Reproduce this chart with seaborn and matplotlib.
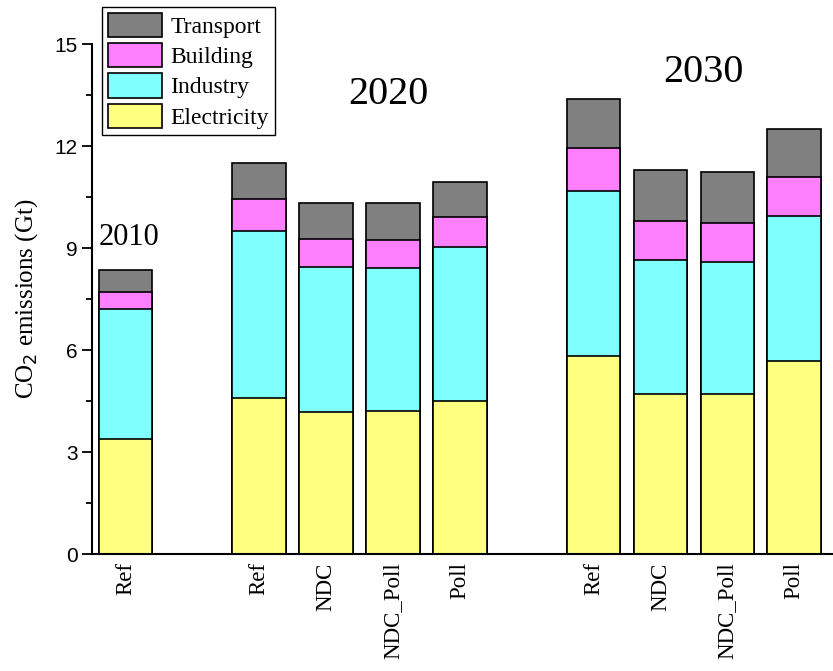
import numpy as np
import pandas as pd
import matplotlib
matplotlib.use("Agg")
import matplotlib.pyplot as plt
from matplotlib.patches import Patch
from matplotlib.ticker import MultipleLocator
import seaborn as sns

# ---- data ----
scenarios = ["Ref", "Ref", "NDC", "NDC_Poll", "Poll", "Ref", "NDC", "NDC_Poll", "Poll"]
slots = [0, 2, 3, 4, 5, 7, 8, 9, 10]
electricity = [3.38, 4.58, 4.17, 4.20, 4.50, 5.83, 4.70, 4.71, 5.68]
industry = [3.83, 4.92, 4.27, 4.22, 4.54, 4.84, 3.94, 3.87, 4.26]
building = [0.49, 0.95, 0.82, 0.82, 0.87, 1.26, 1.15, 1.16, 1.14]
transport = [0.65, 1.04, 1.05, 1.07, 1.03, 1.44, 1.49, 1.50, 1.43]
sectors = ["Electricity", "Industry", "Building", "Transport"]
colors = {"Electricity": "#FFFF80", "Industry": "#80FFFF",
          "Building": "#FF80FF", "Transport": "#808080"}
years = ["2010", "2020", "2030"]

sns.set_style("ticks")
plt.rcParams["text.color"] = "black"
plt.rcParams["axes.labelcolor"] = "black"
plt.rcParams["xtick.color"] = "black"
plt.rcParams["ytick.color"] = "black"
plt.rcParams["axes.edgecolor"] = "black"
serif = ["Liberation Serif", "DejaVu Serif"]
sans = ["Liberation Sans", "DejaVu Sans"]

fig = plt.figure(figsize=(8.33, 6.71), dpi=100)
ax = fig.add_axes([92 / 833, 1 - 554 / 671, 1 - 92 / 833, 510 / 671])

layers = np.array([electricity, industry, building, transport])
cum = np.cumsum(layers, axis=0)
df = pd.DataFrame({"slot": slots})
for i, s in enumerate(sectors):
    df[s] = cum[i]

# draw tallest cumulative first so lower segments overlay
for s in reversed(sectors):
    sns.barplot(data=df, x="slot", y=s, native_scale=True, width=0.8,
                color=colors[s], saturation=1, edgecolor="black",
                linewidth=1.2, ax=ax)

ax.set_xlim(-0.5, 10.58)
ax.set_ylim(0, 15)
ax.yaxis.set_major_locator(MultipleLocator(3))
ax.yaxis.set_minor_locator(MultipleLocator(1.5))
ax.set_xticks(slots)
ax.set_xticklabels(scenarios, rotation=90, fontsize=16.5, family=serif)
ax.tick_params(axis="x", length=0, pad=6)
ax.tick_params(axis="y", which="major", length=7, width=1.3, labelsize=15,
               direction="out", colors="black")
ax.tick_params(axis="y", which="minor", length=4, width=1.3, direction="out",
               colors="black")
for lab in ax.get_yticklabels():
    lab.set_family(sans)
ax.set_xlabel("")
ax.set_ylabel("CO$_2$ emissions (Gt)", fontsize=18, family=serif, labelpad=10)
ax.yaxis.label.set_fontfamily(serif)
for sp in ["top", "right"]:
    ax.spines[sp].set_visible(False)
for sp in ["left", "bottom"]:
    ax.spines[sp].set_linewidth(1.5)

# year annotations
ax.text(0.05, 9.3, years[0], fontsize=22, family=serif, ha="center", va="center")
ax.text(3.93, 13.5, years[1], fontsize=29, family=serif, ha="center", va="center")
ax.text(8.65, 14.15, years[2], fontsize=29, family=serif, ha="center", va="center")

handles = [Patch(facecolor=colors[s], edgecolor="black", linewidth=1.2, label=s)
           for s in reversed(sectors)]
leg = fig.legend(handles=handles, loc="upper left",
                 bbox_to_anchor=(102 / 833, 1 - 7 / 671),
                 prop={"family": serif, "size": 17}, frameon=True,
                 fancybox=False, edgecolor="black", framealpha=1,
                 handlelength=2.3, handleheight=1.2, labelspacing=0.22,
                 borderpad=0.25, handletextpad=0.35, borderaxespad=0)
leg.get_frame().set_linewidth(1.0)

fig.savefig("out.png", dpi=100)
